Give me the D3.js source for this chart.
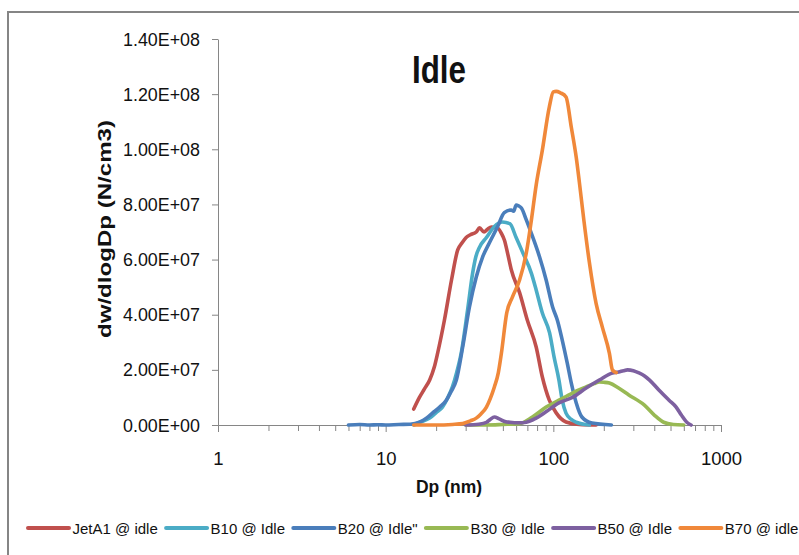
<!DOCTYPE html>
<html>
<head>
<meta charset="utf-8">
<script src="https://cdn.jsdelivr.net/npm/d3@7"></script>
<style>
  html, body { margin: 0; padding: 0; background: #fff; }
  svg { display: block; }
  text { font-family: "Liberation Sans", Arial, sans-serif; fill: #111; }
</style>
</head>
<body>
<svg id="chart" width="799" height="555"></svg>
<script>
// ---------------- DATA ----------------
const chartTitle = "Idle";
const xTitle = "Dp (nm)";
const yTitle = "dw/dlogDp (N/cm3)";
const xTickValues = [1, 10, 100, 1000];
const xTickLabels = ["1", "10", "100", "1000"];
const yTickValues = [0, 2e7, 4e7, 6e7, 8e7, 1e8, 1.2e8, 1.4e8];

const seriesNames = ["JetA1 @ idle", "B10 @ Idle", "B20 @ Idle\"", "B30 @ Idle", "B50 @ Idle", "B70 @ idle"];
const seriesColors = ["#C0504D", "#4BACC6", "#4A7EBB", "#98B954", "#7D60A0", "#F0883A"];

const jetA1Dp = [14.7, 15.9, 17, 18.3, 19.5, 20.4, 22.4, 24.7, 26.9, 28.5, 30.2, 32, 34.7, 36.3, 38.6, 40.5, 42.7, 46.4, 49, 51.1, 53.5, 56.2, 62.9, 70, 79, 86, 94.6, 104, 119, 143, 180];
const jetA1Val = [0.58e7, 1.0e7, 1.3e7, 1.63e7, 2.1e7, 2.6e7, 3.8e7, 5.26e7, 6.35e7, 6.6e7, 6.8e7, 6.9e7, 7.0e7, 7.15e7, 7.0e7, 7.1e7, 7.18e7, 7.15e7, 6.95e7, 6.7e7, 6.2e7, 5.62e7, 4.8e7, 3.8e7, 2.83e7, 1.74e7, 0.9e7, 0.44e7, 0.11e7, 0.02e7, 0];

const b10Dp = [14.7, 16, 18.3, 20, 21.8, 23.5, 25, 26.5, 28.2, 30.8, 33, 34.5, 36.3, 39.9, 44.5, 49.7, 55, 60, 65.5, 74, 79, 86, 95, 101, 108, 113, 119, 128, 137, 164];
const b10Val = [0, 0.1e7, 0.25e7, 0.45e7, 0.65e7, 1.0e7, 1.38e7, 1.9e7, 2.6e7, 4.17e7, 5.5e7, 6.1e7, 6.45e7, 6.8e7, 7.2e7, 7.36e7, 7.3e7, 6.8e7, 6.27e7, 5.5e7, 4.9e7, 4.06e7, 3.34e7, 2.47e7, 1.63e7, 0.9e7, 0.43e7, 0.2e7, 0.1e7, 0];

const b20Dp = [6.0, 7, 8, 9, 10, 12, 14, 15.9, 17.5, 19, 21, 23, 24.5, 26.4, 28.8, 31.6, 34.7, 37.9, 41.5, 46.4, 51, 56, 58, 60, 62, 64.5, 69, 75.3, 82.7, 90.6, 99, 105.7, 113, 121, 128, 137, 148, 170, 222];
const b20Val = [0, 0.02e7, 0, 0.01e7, 0, 0.02e7, 0.03e7, 0.1e7, 0.25e7, 0.43e7, 0.65e7, 0.9e7, 1.2e7, 1.63e7, 2.83e7, 4.28e7, 5.37e7, 6.1e7, 6.6e7, 7.18e7, 7.7e7, 7.8e7, 7.75e7, 7.98e7, 7.95e7, 7.87e7, 7.44e7, 6.82e7, 6.1e7, 5.26e7, 4.28e7, 3.8e7, 3.08e7, 2.25e7, 1.52e7, 0.8e7, 0.29e7, 0.07e7, 0];

const b30Dp = [30, 40, 50, 63, 75, 90.6, 108, 130, 157, 175, 188, 200, 216, 245, 282, 348, 400, 455, 520, 600];
const b30Val = [0, 0, 0.02e7, 0.05e7, 0.29e7, 0.65e7, 0.9e7, 1.16e7, 1.38e7, 1.5e7, 1.56e7, 1.55e7, 1.52e7, 1.34e7, 1.09e7, 0.73e7, 0.36e7, 0.1e7, 0.02e7, 0];

const b50Dp = [30, 36, 40, 42, 44.5, 47.6, 52, 55, 62, 69, 79, 90, 108, 130, 157, 188, 225, 245, 262, 277, 300, 324, 350, 375, 426, 490, 540, 580, 625, 663];
const b50Val = [0, 0.03e7, 0.1e7, 0.2e7, 0.29e7, 0.22e7, 0.12e7, 0.1e7, 0.08e7, 0.1e7, 0.25e7, 0.47e7, 0.8e7, 1.0e7, 1.34e7, 1.63e7, 1.89e7, 1.92e7, 1.97e7, 2.0e7, 1.97e7, 1.89e7, 1.78e7, 1.63e7, 1.27e7, 0.9e7, 0.65e7, 0.36e7, 0.1e7, 0];

const b70Dp = [14.7, 20, 25, 28.8, 32, 34.7, 37, 39.9, 42, 44.5, 47, 49, 52.7, 57, 62.9, 69, 74, 79, 86, 94.6, 100, 104, 110, 119, 128, 137, 143, 152, 164, 180, 196, 216, 225, 237];
const b70Val = [0, 0, 0.02e7, 0.05e7, 0.15e7, 0.25e7, 0.4e7, 0.65e7, 0.95e7, 1.38e7, 1.9e7, 2.6e7, 4.06e7, 4.64e7, 5.26e7, 6.24e7, 7.44e7, 8.7e7, 9.97e7, 11.53e7, 12.08e7, 12.1e7, 12.05e7, 11.9e7, 10.8e7, 9.7e7, 8.8e7, 7.44e7, 5.9e7, 4.4e7, 3.55e7, 2.6e7, 2.0e7, 1.9e7];

const seriesDp = [jetA1Dp, b10Dp, b20Dp, b30Dp, b50Dp, b70Dp];
const seriesVal = [jetA1Val, b10Val, b20Val, b30Val, b50Val, b70Val];

// ---------------- LAYOUT ----------------
const svg = d3.select("#chart");
const axisColor = "#868686";
const plot = { left: 218, right: 721, top: 39, bottom: 425 };

const x = d3.scaleLog().domain([1, 1000]).range([plot.left, plot.right]);
const y = d3.scaleLinear().domain([0, 1.4e8]).range([plot.bottom, plot.top]);

function fmtE(v) {
  if (v === 0) return "0.00E+00";
  const e = Math.floor(Math.log10(v) + 1e-9);
  const m = v / Math.pow(10, e);
  return m.toFixed(2) + "E+" + String(e).padStart(2, "0");
}

// Outer border (left + top)
svg.append("path")
  .attr("d", "M8,555 L8,12 L799,12")
  .attr("fill", "none").attr("stroke", "#858585").attr("stroke-width", 2);

// Y axis
const yAxis = d3.axisLeft(y).tickValues(yTickValues).tickSize(6).tickSizeOuter(0).tickFormat(fmtE);
const gy = svg.append("g").attr("transform", `translate(${plot.left},0)`).call(yAxis);
gy.select(".domain").attr("stroke", axisColor);
gy.selectAll(".tick line").attr("stroke", axisColor);
gy.selectAll(".tick text")
  .attr("x", -18).attr("dy", null).attr("y", 6)
  .attr("font-size", 18).attr("fill", "#111")
  .style("font-family", "'Liberation Sans', Arial, sans-serif")
  .attr("textLength", 77).attr("lengthAdjust", "spacingAndGlyphs");

// X axis: major and minor ticks
const minorTicks = [];
[1, 10, 100].forEach(dec => { for (let k = 2; k <= 9; k++) minorTicks.push(dec * k); });
const xAxisMinor = d3.axisBottom(x).tickValues(minorTicks).tickSize(6).tickFormat("");
const gxm = svg.append("g").attr("transform", `translate(0,${plot.bottom})`).call(xAxisMinor);
gxm.select(".domain").remove();
gxm.selectAll(".tick line").attr("stroke", axisColor);

const xAxis = d3.axisBottom(x).tickValues(xTickValues).tickSize(7).tickSizeOuter(0)
  .tickFormat((d, i) => xTickLabels[i]);
const gx = svg.append("g").attr("transform", `translate(0,${plot.bottom})`).call(xAxis);
gx.select(".domain").attr("stroke", axisColor);
gx.selectAll(".tick line").attr("stroke", axisColor);
gx.selectAll(".tick text")
  .attr("y", 40).attr("dy", null)
  .attr("font-size", 18.5).attr("fill", "#111")
  .style("font-family", "'Liberation Sans', Arial, sans-serif");

// Series lines
const line = d3.line()
  .x(d => x(d[0]))
  .y(d => y(d[1]))
  .curve(d3.curveMonotoneX);

seriesNames.forEach((name, i) => {
  const pts = seriesDp[i].map((d, j) => [d, seriesVal[i][j]]);
  svg.append("path")
    .datum(pts)
    .attr("d", line)
    .attr("fill", "none")
    .attr("stroke", seriesColors[i])
    .attr("stroke-width", 3.6)
    .attr("stroke-linejoin", "round")
    .attr("stroke-linecap", "round");
});

// Chart title
svg.append("text")
  .attr("x", 439).attr("y", 83)
  .attr("text-anchor", "middle")
  .attr("font-size", 39).attr("font-weight", "bold")
  .attr("textLength", 54).attr("lengthAdjust", "spacingAndGlyphs")
  .text(chartTitle);

// X axis title
svg.append("text")
  .attr("x", 449).attr("y", 493)
  .attr("text-anchor", "middle")
  .attr("font-size", 18).attr("font-weight", "bold")
  .attr("textLength", 66).attr("lengthAdjust", "spacingAndGlyphs")
  .text(xTitle);

// Y axis title
svg.append("text")
  .attr("transform", "translate(111,229) rotate(-90)")
  .attr("text-anchor", "middle")
  .attr("font-size", 19).attr("font-weight", "bold")
  .attr("textLength", 218).attr("lengthAdjust", "spacingAndGlyphs")
  .text(yTitle);

// Legend
const legendY = 528;
let cx = 28;
seriesNames.forEach((name, i) => {
  const g = svg.append("g");
  g.append("line")
    .attr("x1", cx).attr("x2", cx + 41)
    .attr("y1", legendY).attr("y2", legendY)
    .attr("stroke", seriesColors[i]).attr("stroke-width", 4)
    .attr("stroke-linecap", "round");
  const t = g.append("text")
    .attr("x", cx + 44.5).attr("y", legendY + 5.5)
    .attr("font-size", 15)
    .text(name);
  const w = t.node().getComputedTextLength();
  cx = cx + 44.5 + w + 8.3;
});
</script>
</body>
</html>
